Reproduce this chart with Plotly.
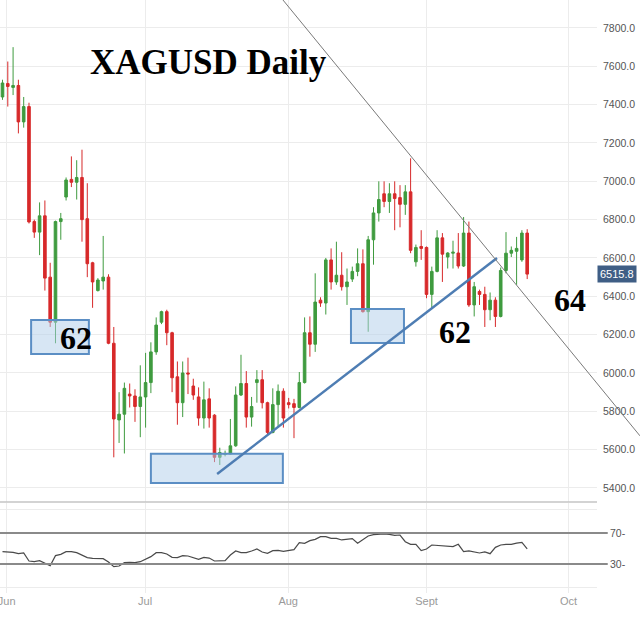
import plotly.graph_objects as go

# ---------------- data ----------------
OPEN = [7440, 7510, 7490, 7500, 7310, 7390, 6790, 6735, 6820, 6500,
        6265, 6790, 6918, 7010, 6995, 7020, 6805, 6575, 6430, 6480,
        6500, 6155, 5755, 5785, 5890, 5880, 5825, 5875, 5950, 6110,
        6265, 6320, 6210, 5980, 5845, 6000, 5932, 5875, 5765, 5865,
        5780, 5560, 5575, 5578, 5620, 5885, 5945, 5770, 5950, 5965,
        5845, 5690, 5835, 5905, 5845, 5840, 5820, 5950, 6210, 6150,
        6380, 6365, 6590, 6475, 6510, 6450, 6490, 6530, 6570, 6320,
        6695, 6835, 6935, 6895, 6935, 6915, 6880, 6945, 6580, 6660,
        6655, 6410, 6530, 6705, 6605, 6625, 6626, 6558, 6730, 6355,
        6425, 6410, 6330, 6380, 6295, 6535, 6625, 6635, 6590, 6730]
HIGH = [7530, 7625, 7700, 7530, 7440, 7410, 6800, 6890, 6900, 6575,
        6795, 6835, 7020, 7130, 7110, 7165, 6990, 6580, 6495, 6715,
        6515, 6240, 5900, 5950, 5945, 5915, 6040, 6105, 6160, 6290,
        6325, 6330, 6215, 6060, 6060, 6080, 5970, 5925, 5955, 5920,
        5785, 5610, 5595, 5760, 5930, 6095, 6010, 5875, 6015, 6015,
        5850, 5920, 5940, 5920, 5870, 5865, 6005, 6290, 6295, 6520,
        6395, 6600, 6650, 6685, 6630, 6545, 6555, 6650, 6645, 6715,
        6865, 7000, 7000, 6990, 7000, 6980, 6980, 7120, 6670, 6745,
        6660, 6555, 6745, 6730, 6630, 6690, 6730, 6814, 6790, 6475,
        6435, 6450, 6420, 6395, 6550, 6735, 6660, 6710, 6745, 6750]
LOW = [7425, 7390, 7450, 7250, 7280, 6780, 6705, 6615, 6430, 6240,
       6155, 6695, 6900, 6970, 6905, 6685, 6500, 6340, 6425, 6435,
       6150, 5560, 5635, 5580, 5820, 5745, 5665, 5715, 5895, 6095,
       6255, 6145, 5900, 5730, 5770, 5890, 5860, 5725, 5710, 5715,
       5535, 5520, 5565, 5575, 5615, 5880, 5715, 5720, 5845, 5815,
       5675, 5685, 5720, 5715, 5815, 5660, 5815, 5945, 6085, 6110,
       6345, 6305, 6435, 6460, 6430, 6355, 6475, 6505, 6315, 6215,
       6565, 6790, 6865, 6835, 6745, 6760, 6825, 6625, 6555, 6590,
       6390, 6340, 6525, 6475, 6545, 6545, 6545, 6553, 6345, 6295,
       6355, 6240, 6275, 6240, 6290, 6520, 6605, 6460, 6580, 6490]
CLOSE = [7513, 7495, 7500, 7310, 7390, 6788, 6735, 6820, 6495, 6265,
         6790, 6805, 7007, 6995, 7020, 6800, 6570, 6475, 6485, 6500,
         6155, 5760, 5785, 5920, 5880, 5825, 5875, 5950, 6110, 6250,
         6320, 6210, 5975, 5845, 6000, 5995, 5885, 5765, 5860, 5765,
         5560, 5585, 5580, 5620, 5885, 5945, 5770, 5825, 5965, 5845,
         5690, 5835, 5905, 5765, 5835, 5820, 5950, 6210, 6150, 6370,
         6365, 6590, 6475, 6510, 6450, 6475, 6530, 6570, 6320, 6695,
         6835, 6905, 6895, 6935, 6910, 6880, 6945, 6640, 6655, 6650,
         6410, 6530, 6705, 6620, 6626, 6630, 6558, 6730, 6355, 6450,
         6410, 6330, 6380, 6295, 6535, 6625, 6640, 6650, 6730, 6515.8]
RSI = [45.9, 45.9, 45, 43.3, 44.2, 33.9, 33, 34.3, 30.9, 27.8,
       40.8, 42.5, 45.9, 45.9, 44.6, 41.6, 38.2, 37.3, 37.3, 36.9,
       32.6, 26.6, 27.4, 31.7, 32.2, 31.7, 33, 36.5, 39.5, 44.6,
       44.6, 42.9, 38.6, 38.2, 40.8, 40.3, 38.6, 36, 38.6, 37.7,
       33.9, 34.3, 34.3, 41.6, 46.8, 44.6, 44.6, 46.8, 49.4, 45.5,
       43.8, 47.2, 47.6, 46.3, 47.2, 48.5, 57.5, 56.7, 60.1, 61.8,
       65.3, 65.3, 63.1, 63.1, 61, 61.8, 62.7, 56.7, 61.8, 66.1,
       67.8, 68.7, 68.7, 68.3, 67, 67.4, 58.8, 55.4, 55.4, 47.2,
       49.4, 54.5, 54.1, 53.2, 53.2, 52.4, 55.4, 45.9, 46.8, 45.9,
       44.2, 45.5, 43.3, 51.5, 54.5, 55.4, 55.4, 57, 58, 49.5]
DAY = list(range(len(CLOSE)))  # trading-day index

MONTH_LABELS = ["Jun", "Jul", "Aug", "Sept", "Oct"]
MONTH_POS = [0.8, 26.9, 53.9, 80.0, 106.8]
PRICE_TICKS = [5400, 5600, 5800, 6000, 6200, 6400, 6600, 6800, 7000, 7200, 7400, 7600, 7800]
RSI_LEVELS = [30, 70]
LAST_PRICE = 6515.8

# zones (day index, price) and trend line anchors
ZONES = [(5.4, 16.3, 6099, 6277), (28.0, 52.9, 5426, 5578), (65.75, 75.75, 6157, 6334)]
UP_TREND = [(40.5, 5473), (93.3, 6600)]

UP, DN = "#3f9b3f", "#d7292a"
XR = [-0.47, 112.17]

fig = go.Figure()
fig.add_trace(go.Candlestick(
    x=DAY, open=OPEN, high=HIGH, low=LOW, close=CLOSE,
    increasing=dict(line=dict(color=UP, width=1), fillcolor=UP),
    decreasing=dict(line=dict(color=DN, width=1), fillcolor=DN),
    whiskerwidth=0, showlegend=False, hoverinfo="skip",
    xaxis="x", yaxis="y"))
fig.add_trace(go.Scatter(
    x=DAY, y=RSI, mode="lines", line=dict(color="#4a4a4a", width=1.2),
    showlegend=False, hoverinfo="skip", xaxis="x2", yaxis="y2"))

shapes = []
for x0, x1, y0, y1 in ZONES:
    shapes.append(dict(type="rect", xref="x", yref="y", x0=x0, x1=x1, y0=y0, y1=y1,
                       fillcolor="rgba(176,206,234,0.5)",
                       line=dict(color="#5b8ec4", width=2), layer="above"))
shapes.append(dict(type="line", xref="x", yref="y",
                   x0=UP_TREND[0][0], y0=UP_TREND[0][1], x1=UP_TREND[1][0], y1=UP_TREND[1][1],
                   line=dict(color="#4e7db3", width=2.5)))
# descending gray trend line (drawn over the axis labels, as in the original)
shapes.append(dict(type="line", xref="paper", yref="paper", x0=0.474, y0=1.0, x1=1.072, y1=0.265,
                   line=dict(color="#7a7a7a", width=1)))
# panel separator
shapes.append(dict(type="line", xref="paper", yref="paper", x0=0, x1=1, y0=0.1535, y1=0.1535,
                   line=dict(color="#c4c4c4", width=1.5)))
for lv in RSI_LEVELS:
    shapes.append(dict(type="line", xref="paper", yref="y2", x0=0, x1=1.018, y0=lv, y1=lv,
                       line=dict(color="#8a8a8a", width=1.8)))

serif = dict(family="Liberation Serif, Times New Roman, serif", color="black")
annotations = [
    dict(text="<b>XAGUSD Daily</b>", xref="paper", yref="paper", x=0.350, y=0.8954,
         showarrow=False, font=dict(size=35, **serif), xanchor="center", yanchor="middle"),
    dict(text="<b>62</b>", xref="paper", yref="paper", x=0.1273, y=0.430,
         showarrow=False, font=dict(size=32, **serif), xanchor="center", yanchor="middle"),
    dict(text="<b>62</b>", xref="paper", yref="paper", x=0.762, y=0.440,
         showarrow=False, font=dict(size=32, **serif), xanchor="center", yanchor="middle"),
    dict(text="<b>64</b>", xref="paper", yref="paper", x=0.955, y=0.494,
         showarrow=False, font=dict(size=32, **serif), xanchor="center", yanchor="middle"),
    dict(text="%.1f" % LAST_PRICE, xref="paper", yref="y", x=1.0, y=LAST_PRICE,
         showarrow=False, xanchor="left", yanchor="middle", bgcolor="#3f5e85",
         borderpad=2, font=dict(size=11, color="white", family="Liberation Sans, Arial")),
]

grid = "#ececec"
fig.update_layout(
    width=640, height=642, margin=dict(l=0, r=43, t=0, b=49, autoexpand=False),
    paper_bgcolor="white", plot_bgcolor="white",
    shapes=shapes, annotations=annotations,
    xaxis=dict(domain=[0, 1], anchor="y", range=XR, tickvals=MONTH_POS, showticklabels=False,
               showgrid=True, gridcolor=grid, zeroline=False, showline=False, automargin=False,
               rangeslider=dict(visible=False), fixedrange=True),
    yaxis=dict(domain=[0.1535, 1], anchor="x", range=[5327, 7946], side="right",
               tickvals=PRICE_TICKS, ticktext=["%.1f" % v for v in PRICE_TICKS],
               showgrid=True, gridcolor=grid, zeroline=False, showline=False, automargin=False,
               ticklabelstandoff=5,
               tickfont=dict(size=10.5, color="#555", family="Liberation Sans, Arial")),
    xaxis2=dict(domain=[0, 1], anchor="y2", range=XR, tickvals=MONTH_POS, ticktext=MONTH_LABELS,
                showgrid=True, gridcolor=grid, zeroline=False, showline=False, automargin=False,
                ticklabeloverflow="allow",
                tickfont=dict(size=11, color="#9a9a9a", family="Liberation Sans, Arial")),
    yaxis2=dict(domain=[0, 0.1518], anchor="x2", range=[-7.4, 108.7], side="right",
                tickvals=[0, 30, 70, 100], ticktext=["", "30-", "70-", ""],
                showgrid=True, gridcolor=grid, zeroline=False, showline=False, automargin=False,
                ticklabelstandoff=12,
                tickfont=dict(size=10.5, color="#555", family="Liberation Sans, Arial")),
)

# remove the browser's default 8px page margin so the figure sits at the window's corner
fig.write_html("out.html", config={"displayModeBar": False},
               post_script="document.body.style.margin='0px';")
